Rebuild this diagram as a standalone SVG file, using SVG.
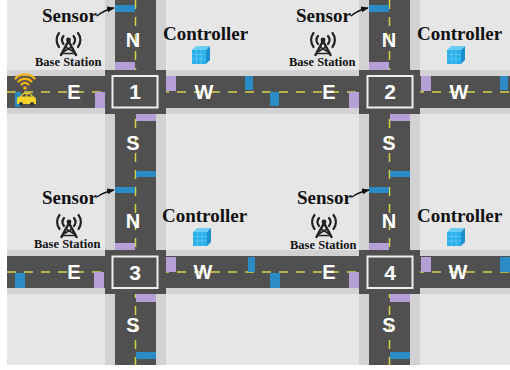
<svg xmlns="http://www.w3.org/2000/svg" width="510" height="370" viewBox="0 0 510 370">
  <style>
    .walk { fill: #d2d2d2; }
    .road { fill: #505050; }
    .dash { stroke: #d6d24a; stroke-width: 1.5; stroke-dasharray: 9 8; fill: none; }
    .blue { fill: #2a8bc5; }
    .lilac { fill: #b59fd6; }
    .box { fill: none; stroke: #eeeeee; stroke-width: 2; }
    .dir { font-family: "Liberation Sans", Arial, sans-serif; font-weight: bold; font-size: 20px; fill: #ffffff; text-anchor: middle; }
    .num { font-family: "Liberation Sans", Arial, sans-serif; font-weight: bold; font-size: 21px; fill: #ffffff; text-anchor: middle; }
    .lbl { font-family: "Liberation Serif", "Times New Roman", serif; font-weight: bold; font-size: 19px; fill: #111111; }
    .bs { font-family: "Liberation Serif", "Times New Roman", serif; font-weight: bold; font-size: 12.5px; fill: #111111; }
    .link { stroke: #111111; stroke-width: 1.3; fill: none; }
  </style>
  <defs>
    <marker id="tip" viewBox="0 0 10 10" refX="9" refY="5" markerWidth="6" markerHeight="6" orient="auto">
      <path d="M0,1 L10,5 L0,9 Z" fill="#111111"/>
    </marker>
    <!-- radio tower: origin at the top centre -->
    <g id="tower" stroke="#222222" fill="none" stroke-linecap="round">
      <circle cx="0" cy="8" r="2.4" fill="#222222" stroke="none"/>
      <path d="M-5,4 A6.5,6.5 0 0 0 -5,12" stroke-width="2.2"/>
      <path d="M-9.5,1 A11.5,11.5 0 0 0 -9.5,15" stroke-width="2.2"/>
      <path d="M5,4 A6.5,6.5 0 0 1 5,12" stroke-width="2.2"/>
      <path d="M9.5,1 A11.5,11.5 0 0 1 9.5,15" stroke-width="2.2"/>
      <path d="M0,9 L-7.5,23 M0,9 L7.5,23" stroke-width="2.5"/>
      <path d="M-3,15 L4.5,19.5 M3,15 L-4.5,19.5 M-6,21.5 L6,21.5" stroke-width="1.5"/>
    </g>
    <!-- controller cube: 18 x 18 -->
    <g id="cube">
      <polygon points="0,4 4,0 18,0 14,4" fill="#6ccdf3"/>
      <polygon points="14,4 18,0 18,14 14,18" fill="#1d8fcc"/>
      <rect x="0" y="4" width="14" height="14" fill="#2ab0ea"/>
      <path d="M0,8.5 H14 M0,13 H14 M4.5,4 V18 M9,4 V18" stroke="#7fd3f5" stroke-width="0.5"/>
    </g>
  </defs>

  <!-- ground -->
  <rect x="7" y="0" width="503" height="365" fill="#e6e6e6"/>

  <!-- sidewalks -->
  <rect class="walk" x="7" y="70" width="503" height="44"/>
  <rect class="walk" x="7" y="250" width="503" height="44"/>
  <rect class="walk" x="105" y="0" width="61" height="365"/>
  <rect class="walk" x="359" y="0" width="61" height="365"/>

  <!-- carriageways -->
  <rect class="road" x="7" y="76" width="503" height="32"/>
  <rect class="road" x="7" y="256" width="503" height="32"/>
  <rect class="road" x="115" y="0" width="41" height="365"/>
  <rect class="road" x="369" y="0" width="41" height="365"/>

  <!-- centre lines -->
  <line class="dash" x1="7" y1="92" x2="510" y2="92"/>
  <line class="dash" x1="7" y1="272" x2="510" y2="272"/>
  <line class="dash" x1="135.5" y1="0" x2="135.5" y2="365"/>
  <line class="dash" x1="389.5" y1="0" x2="389.5" y2="365"/>

  <!-- intersection 1 -->
  <g id="intersection-1">
    <rect class="road" x="105" y="70" width="61" height="44"/>
    <rect class="box" x="112.5" y="76" width="45" height="31.5"/>
    <text class="num" x="135" y="99">1</text>
    <rect class="blue" x="115" y="5" width="20" height="7"/>
    <rect class="lilac" x="115" y="62" width="20" height="8"/>
    <rect class="blue" x="15" y="92" width="6" height="15"/>
    <rect class="lilac" x="95" y="92" width="10" height="16"/>
    <rect class="lilac" x="166" y="76" width="10" height="15"/>
    <rect class="blue" x="245" y="76" width="8" height="14"/>
    <rect class="lilac" x="136" y="114" width="20" height="7"/>
    <rect class="blue" x="136" y="171" width="20" height="6"/>
    <text class="dir" x="133" y="47">N</text>
    <text class="dir" x="74" y="98.5">E</text>
    <text class="dir" x="204" y="98.5">W</text>
    <text class="dir" x="133" y="150">S</text>
  </g>

  <!-- intersection 2 -->
  <g id="intersection-2">
    <rect class="road" x="359" y="70" width="61" height="44"/>
    <rect class="box" x="367.5" y="76" width="45" height="31.5"/>
    <text class="num" x="390" y="99">2</text>
    <rect class="blue" x="369" y="5" width="20" height="7"/>
    <rect class="lilac" x="369" y="62" width="20" height="8"/>
    <rect class="blue" x="270" y="92" width="9" height="14"/>
    <rect class="lilac" x="349" y="92" width="10" height="16"/>
    <rect class="lilac" x="421" y="76" width="10" height="15"/>
    <rect class="blue" x="500" y="76" width="8" height="14"/>
    <rect class="lilac" x="390" y="114" width="20" height="7"/>
    <rect class="blue" x="390" y="171" width="20" height="6"/>
    <text class="dir" x="389" y="47">N</text>
    <text class="dir" x="329" y="98.5">E</text>
    <text class="dir" x="459" y="98.5">W</text>
    <text class="dir" x="389" y="150">S</text>
  </g>

  <!-- intersection 3 -->
  <g id="intersection-3">
    <rect class="road" x="105" y="250" width="61" height="44"/>
    <rect class="box" x="112.5" y="256.5" width="45" height="31.5"/>
    <text class="num" x="135" y="279.5">3</text>
    <rect class="blue" x="115" y="187" width="20" height="6"/>
    <rect class="lilac" x="115" y="243" width="20" height="7"/>
    <rect class="blue" x="15" y="273" width="10" height="15"/>
    <rect class="lilac" x="94" y="272" width="10" height="16"/>
    <rect class="lilac" x="166" y="257" width="10" height="15"/>
    <rect class="blue" x="248" y="257" width="7" height="15"/>
    <rect class="lilac" x="136" y="294" width="20" height="8"/>
    <rect class="blue" x="136" y="352" width="20" height="7"/>
    <text class="dir" x="133" y="228">N</text>
    <text class="dir" x="74" y="279">E</text>
    <text class="dir" x="203" y="279">W</text>
    <text class="dir" x="133" y="332">S</text>
  </g>

  <!-- intersection 4 -->
  <g id="intersection-4">
    <rect class="road" x="359" y="250" width="61" height="44"/>
    <rect class="box" x="367.5" y="256.5" width="45" height="31.5"/>
    <text class="num" x="390" y="279.5">4</text>
    <rect class="blue" x="369" y="187" width="20" height="6"/>
    <rect class="lilac" x="369" y="243" width="20" height="7"/>
    <rect class="blue" x="270" y="273" width="10" height="15"/>
    <rect class="lilac" x="349" y="272" width="10" height="16"/>
    <rect class="lilac" x="421" y="257" width="10" height="15"/>
    <rect class="blue" x="500" y="257" width="10" height="15"/>
    <rect class="lilac" x="390" y="294" width="20" height="8"/>
    <rect class="blue" x="390" y="352" width="20" height="7"/>
    <text class="dir" x="389" y="228">N</text>
    <text class="dir" x="329" y="279">E</text>
    <text class="dir" x="458" y="279">W</text>
    <text class="dir" x="389" y="332">S</text>
  </g>

  <!-- connected vehicle -->
  <g id="vehicle">
    <g stroke="#f3b21a" stroke-width="2.4" fill="none" stroke-linecap="round">
      <path d="M21.5,84.5 A5,5 0 0 1 28.5,84.5"/>
      <path d="M18.5,81.5 A9,9 0 0 1 31.5,81.5"/>
      <path d="M15.5,78.5 A13,13 0 0 1 34.5,78.5"/>
    </g>
    <circle cx="25" cy="88" r="1.8" fill="#f3b21a"/>
    <path d="M17,104 V99 Q17,97 20,96.5 L23,93 H30 L33.5,96.5 Q36,97 36,99.5 V104 Z" fill="#f1d32a"/>
    <path d="M23.8,94 H26.2 V96.5 H21.5 Z M27.2,94 H29.5 L32,96.5 H27.2 Z" fill="#555555"/>
    <circle cx="21" cy="104" r="2" fill="#333333"/>
    <circle cx="32" cy="104" r="2" fill="#333333"/>
  </g>

  <!-- sensor labels -->
  <g id="sensor-1"><text class="lbl" x="42" y="22">Sensor</text></g>
  <g id="sensor-2"><text class="lbl" x="296" y="22">Sensor</text></g>
  <g id="sensor-3"><text class="lbl" x="42" y="204">Sensor</text></g>
  <g id="sensor-4"><text class="lbl" x="297" y="204">Sensor</text></g>

  <!-- base stations -->
  <g id="base-station-1">
    <use href="#tower" x="68.5" y="32"/>
    <text class="bs" x="35" y="66">Base Station</text>
  </g>
  <g id="base-station-2">
    <use href="#tower" x="323" y="32"/>
    <text class="bs" x="289" y="66">Base Station</text>
  </g>
  <g id="base-station-3">
    <use href="#tower" x="69" y="214"/>
    <text class="bs" x="34" y="248">Base Station</text>
  </g>
  <g id="base-station-4">
    <use href="#tower" x="324" y="214"/>
    <text class="bs" x="290" y="249">Base Station</text>
  </g>

  <!-- controllers -->
  <g id="controller-1">
    <text class="lbl" x="163" y="40">Controller</text>
    <use href="#cube" x="192" y="46"/>
  </g>
  <g id="controller-2">
    <text class="lbl" x="417" y="40">Controller</text>
    <use href="#cube" x="447" y="46"/>
  </g>
  <g id="controller-3">
    <text class="lbl" x="162" y="222">Controller</text>
    <use href="#cube" x="193" y="228"/>
  </g>
  <g id="controller-4">
    <text class="lbl" x="417" y="222">Controller</text>
    <use href="#cube" x="447" y="228"/>
  </g>

  <!-- sensor pointers -->
  <g id="connectors">
    <path class="link" d="M97,16 Q104,10 114,8" marker-end="url(#tip)"/>
    <path class="link" d="M351,16 Q358,10 368,8" marker-end="url(#tip)"/>
    <path class="link" d="M97,197 Q104,192 114,190" marker-end="url(#tip)"/>
    <path class="link" d="M352,197 Q359,192 369,190" marker-end="url(#tip)"/>
  </g>
</svg>
